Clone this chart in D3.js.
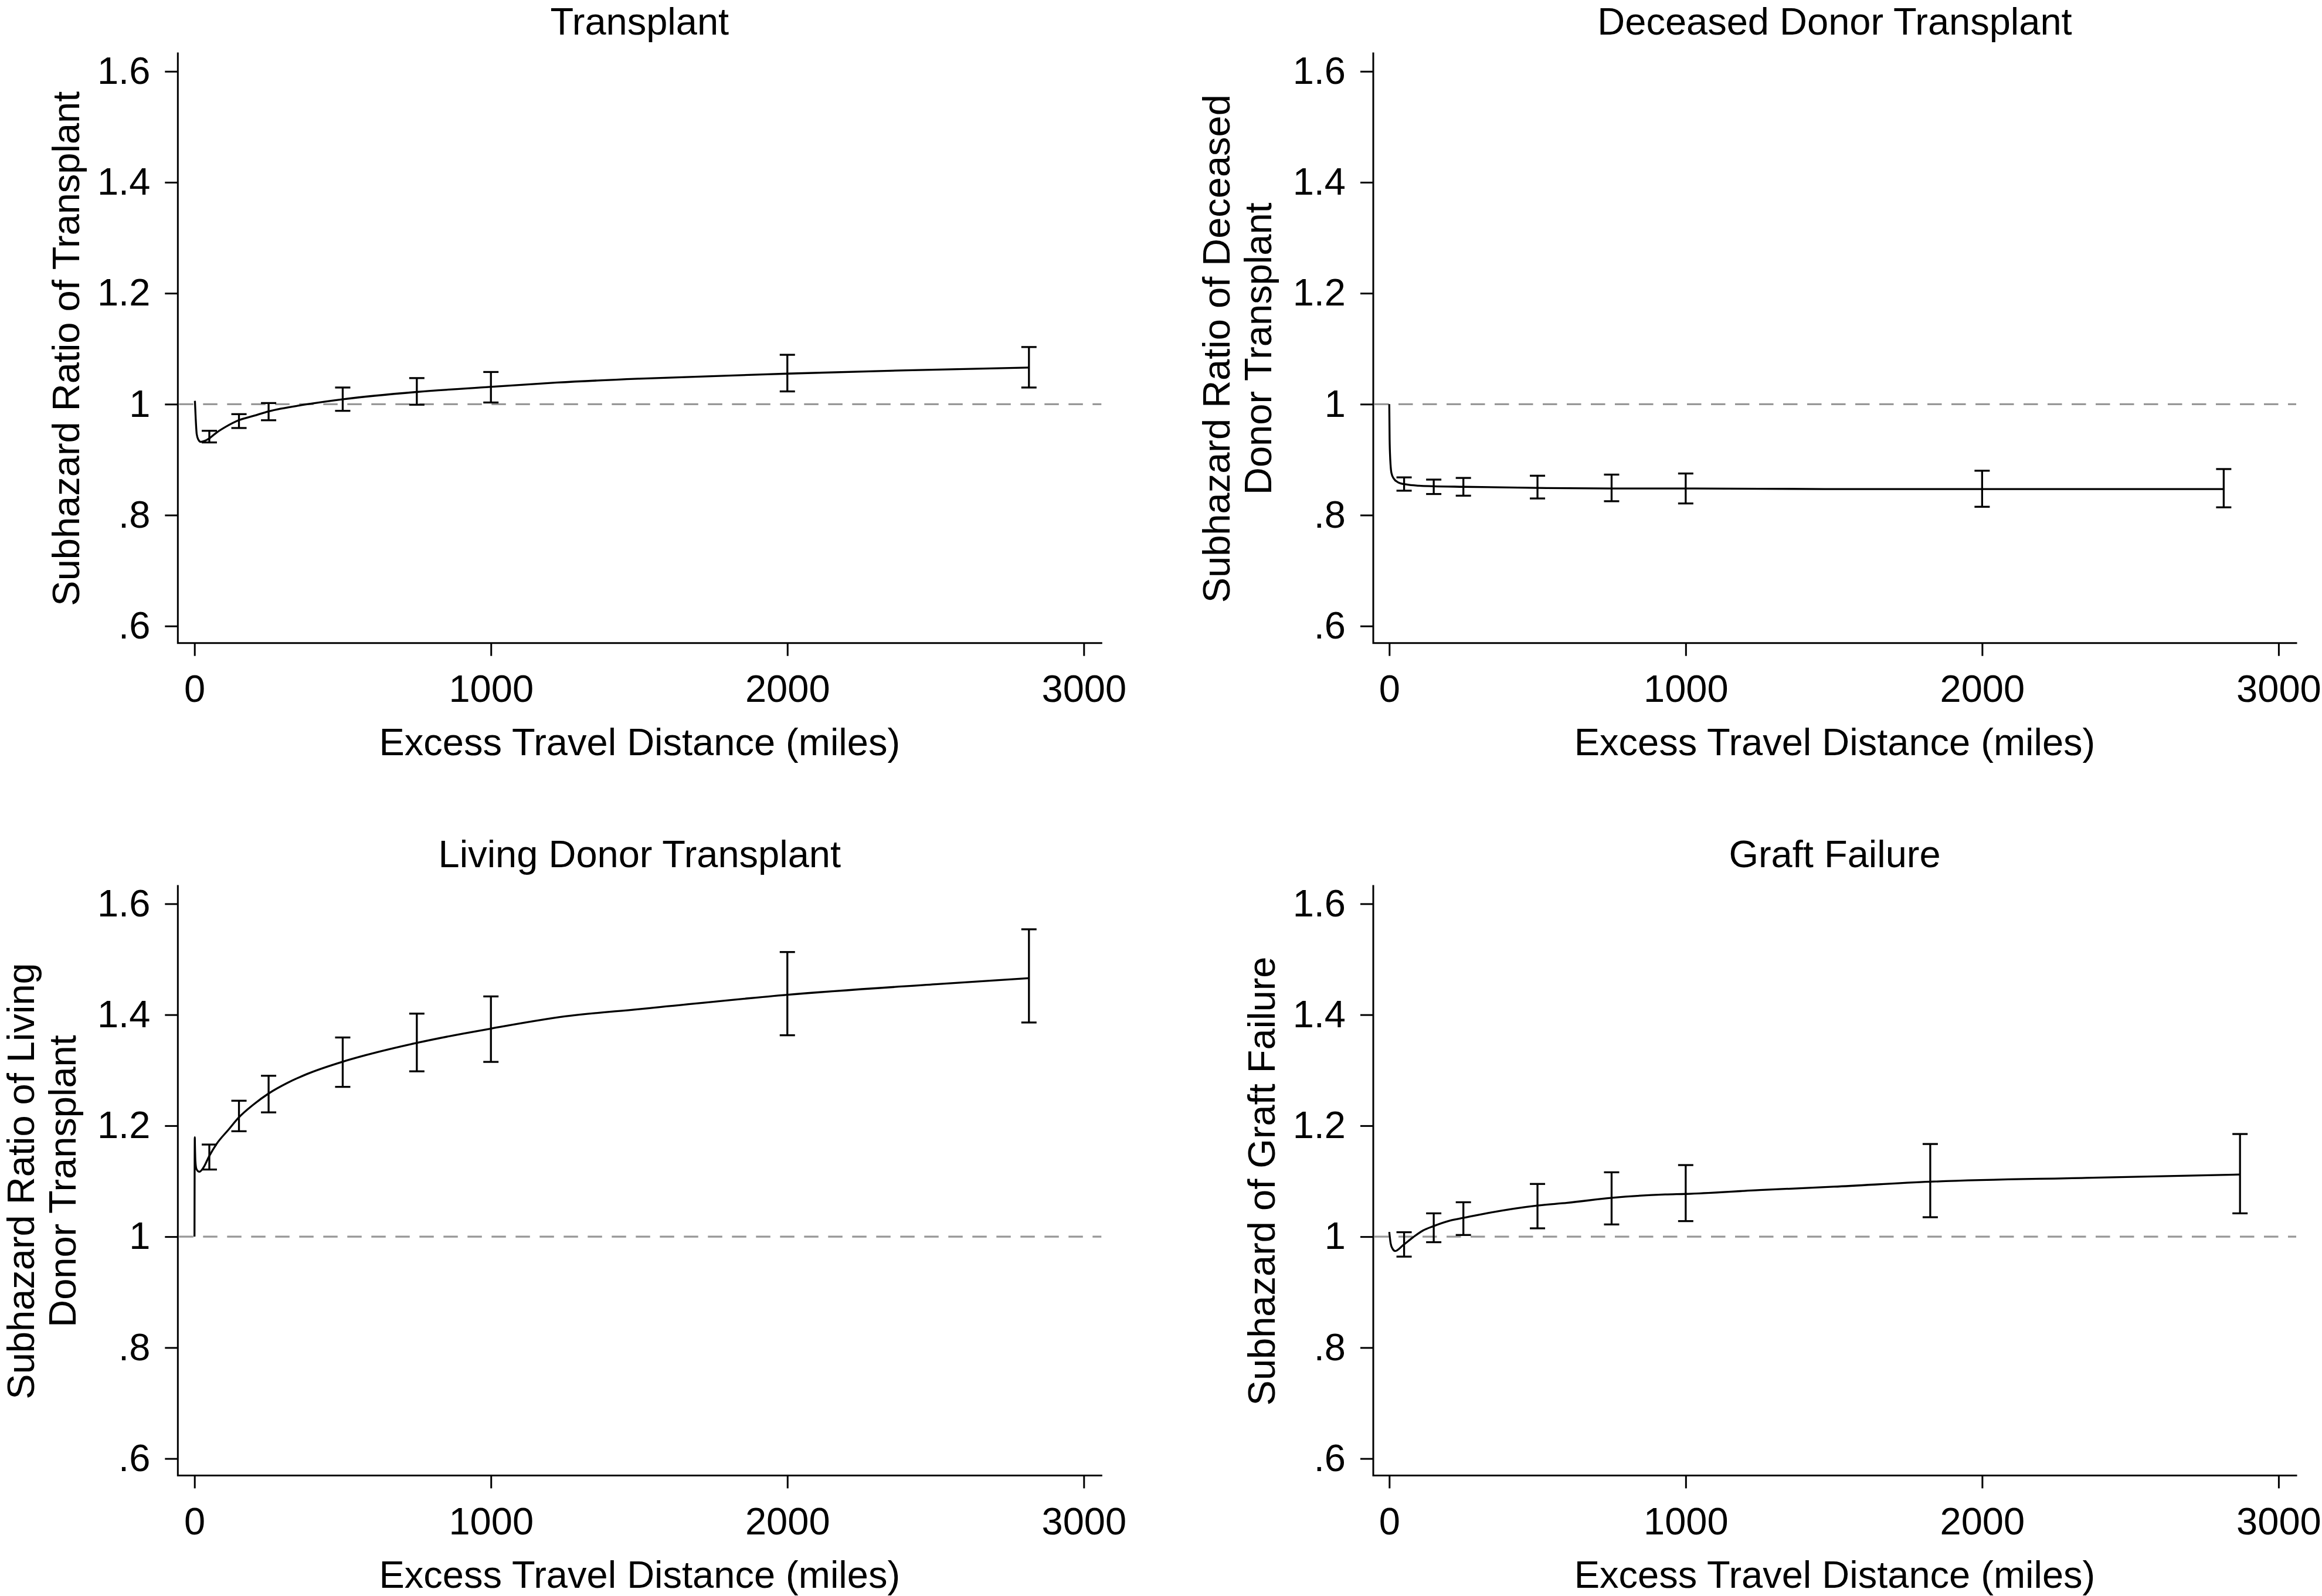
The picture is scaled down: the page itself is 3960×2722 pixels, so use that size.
<!DOCTYPE html>
<html><head><meta charset="utf-8">
<script src="https://cdn.jsdelivr.net/npm/d3@7"></script>
<style>
body{margin:0;background:#fff}
svg{display:block}
text{font-family:"Liberation Sans",Arial,Helvetica,sans-serif;fill:#000}
</style>
</head><body>
<svg id="c" width="3960" height="2722"></svg>
<script>
// ---------- data ----------
const xTickValues = [0, 1000, 2000, 3000];
const yTickValues = [0.6, 0.8, 1, 1.2, 1.4, 1.6];
const yTickLabels = [".6", ".8", "1", "1.2", "1.4", "1.6"];
const xTitle = "Excess Travel Distance (miles)";
const panelTitles = ["Transplant", "Deceased Donor Transplant", "Living Donor Transplant", "Graft Failure"];
const yTitles = [
  ["Subhazard Ratio of Transplant"],
  ["Subhazard Ratio of Deceased", "Donor Transplant"],
  ["Subhazard Ratio of Living", "Donor Transplant"],
  ["Subhazard of Graft Failure"]
];

// Transplant
const tx_barX = [50, 150, 250, 500, 750, 1000, 2000, 2815];
const tx_lo   = [0.931, 0.957, 0.971, 0.988, 0.999, 1.003, 1.023, 1.030];
const tx_hi   = [0.952, 0.982, 1.002, 1.030, 1.047, 1.058, 1.089, 1.103];
const tx_curveX = [1.4, 4, 7.5, 13, 20.8, 35, 51.7, 75, 104.6, 148.9, 200, 250, 370, 502, 749, 996, 1224, 1500, 2000, 2400, 2815];
const tx_curveY = [1.006, 0.975, 0.946, 0.936, 0.932, 0.934, 0.939, 0.949, 0.959, 0.971, 0.979, 0.987, 0.999, 1.009, 1.022, 1.031, 1.039, 1.046, 1.055, 1.061, 1.066];

// Deceased donor transplant
const dd_barX = [50, 150, 250, 500, 750, 1000, 2000, 2815];
const dd_lo   = [0.844, 0.838, 0.835, 0.830, 0.825, 0.821, 0.815, 0.814];
const dd_hi   = [0.868, 0.864, 0.867, 0.871, 0.873, 0.875, 0.880, 0.883];
const dd_curveX = [0, 1.2, 2.5, 4.3, 7.3, 15, 30, 60, 100, 150, 250, 500, 750, 1000, 1500, 2000, 2815];
const dd_curveY = [1.0, 0.936, 0.91, 0.891, 0.876, 0.866, 0.859, 0.855, 0.853, 0.852, 0.851, 0.849, 0.848, 0.848, 0.847, 0.847, 0.847];

// Living donor transplant
const ld_barX = [50, 150, 250, 500, 750, 1000, 2000, 2815];
const ld_lo   = [1.121, 1.190, 1.224, 1.270, 1.298, 1.315, 1.363, 1.386];
const ld_hi   = [1.166, 1.245, 1.290, 1.359, 1.402, 1.433, 1.513, 1.554];
const ld_curveX = [0, 1, 1.5, 3, 6.5, 16.4, 29.6, 49.4, 75.7, 115, 148, 201, 250, 313, 379, 498, 577, 748, 906, 1000, 1250, 1500, 2000, 2500, 2815];
const ld_curveY = [1.0, 1.179, 1.165, 1.136, 1.122, 1.117, 1.124, 1.145, 1.168, 1.193, 1.214, 1.239, 1.258, 1.277, 1.293, 1.315, 1.327, 1.349, 1.366, 1.375, 1.397, 1.410, 1.436, 1.455, 1.466];

// Graft failure
const gf_barX = [50, 150, 250, 500, 750, 1000, 1825, 2870];
const gf_lo   = [0.964, 0.990, 1.003, 1.015, 1.022, 1.028, 1.035, 1.042];
const gf_hi   = [1.008, 1.042, 1.062, 1.095, 1.116, 1.129, 1.167, 1.185];
const gf_curveX = [0, 4.6, 11.3, 19.8, 47.5, 80.5, 113.5, 149.7, 205.7, 251.9, 337.6, 499, 601, 750.8, 930.8, 1000, 1250, 1500, 1825, 2350, 2870];
const gf_curveY = [1.0085, 0.988, 0.978, 0.974, 0.985, 0.999, 1.011, 1.019, 1.029, 1.034, 1.043, 1.056, 1.061, 1.070, 1.076, 1.077, 1.084, 1.090, 1.099, 1.106, 1.112];

const series = [
  {barX: tx_barX, lo: tx_lo, hi: tx_hi, cx: tx_curveX, cy: tx_curveY},
  {barX: dd_barX, lo: dd_lo, hi: dd_hi, cx: dd_curveX, cy: dd_curveY},
  {barX: ld_barX, lo: ld_lo, hi: ld_hi, cx: ld_curveX, cy: ld_curveY},
  {barX: gf_barX, lo: gf_lo, hi: gf_hi, cx: gf_curveX, cy: gf_curveY}
];

// ---------- layout ----------
const FS = 65;
const colL = {left: 303.3, x0: 331.7, x3000: 1848.3, right: 1878.3};
const colR = {left: 2342, x0: 2369.3, x3000: 3885.9, right: 3916};
const rowT = {top: 91, y16: 121.7, y06: 1067.7, axisY: 1096.7, titleY: 59.3};
const rowB = {top: 1511, y16: 1541.4, y06: 2487.6, axisY: 2516.4, titleY: 1479};
const panels = [
  Object.assign({}, colL, rowT),
  Object.assign({}, colR, rowT),
  Object.assign({}, colL, rowB),
  Object.assign({}, colR, rowB)
];

const svg = d3.select("#c");
svg.append("rect").attr("width", 3960).attr("height", 2722).attr("fill", "#fff");

panels.forEach((p, i) => {
  const s = series[i];
  const g = svg.append("g");
  const x = d3.scaleLinear().domain([0, 3000]).range([p.x0, p.x3000]);
  const y = d3.scaleLinear().domain([0.6, 1.6]).range([p.y06, p.y16]);

  // reference line at 1
  g.append("line")
    .attr("x1", p.left + 2).attr("x2", p.right)
    .attr("y1", y(1)).attr("y2", y(1))
    .attr("stroke", "#989898").attr("stroke-width", 3.3)
    .attr("stroke-dasharray", "24.5,16.5");

  // y axis
  const ya = g.append("g").attr("transform", `translate(${p.left},0)`)
    .call(d3.axisLeft(y).tickValues(yTickValues)
      .tickFormat((d, j) => yTickLabels[j]).tickSize(22).tickPadding(25));
  ya.select(".domain").remove();
  ya.selectAll(".tick line").attr("stroke", "#000").attr("stroke-width", 3);
  ya.selectAll(".tick text").attr("font-size", FS).attr("fill", "#000")
    .style("font-family", '"Liberation Sans",Arial,Helvetica,sans-serif');

  // x axis
  const xa = g.append("g").attr("transform", `translate(0,${p.axisY})`)
    .call(d3.axisBottom(x).tickValues(xTickValues).tickFormat(d3.format("d")).tickSize(22));
  xa.select(".domain").remove();
  xa.selectAll(".tick line").attr("stroke", "#000").attr("stroke-width", 3);
  xa.selectAll(".tick text").attr("font-size", FS).attr("fill", "#000")
    .attr("y", 100.6).attr("dy", 0)
    .style("font-family", '"Liberation Sans",Arial,Helvetica,sans-serif');

  // axis lines
  g.append("path")
    .attr("d", `M${p.left},${p.top}V${p.axisY}H${p.right}`)
    .attr("fill", "none").attr("stroke", "#000").attr("stroke-width", 3)
    .attr("stroke-linejoin", "miter").attr("stroke-linecap", "square");

  // curve
  const pts = s.cx.map((v, j) => [v, s.cy[j]]);
  g.append("path")
    .datum(pts)
    .attr("d", d3.line().x(d => x(d[0])).y(d => y(d[1])).curve(d3.curveMonotoneX))
    .attr("fill", "none").attr("stroke", "#000").attr("stroke-width", 3.3)
    .attr("stroke-linejoin", "round");

  // error bars
  const bars = s.barX.map((v, j) => ({x: v, lo: s.lo[j], hi: s.hi[j]}));
  const cap = 13;
  const eb = g.append("g").attr("stroke", "#000").attr("stroke-width", 3.3);
  eb.selectAll("line.v").data(bars).join("line").attr("class", "v")
    .attr("x1", d => x(d.x)).attr("x2", d => x(d.x))
    .attr("y1", d => y(d.lo)).attr("y2", d => y(d.hi));
  eb.selectAll("line.t").data(bars).join("line").attr("class", "t")
    .attr("x1", d => x(d.x) - cap).attr("x2", d => x(d.x) + cap)
    .attr("y1", d => y(d.hi)).attr("y2", d => y(d.hi));
  eb.selectAll("line.b").data(bars).join("line").attr("class", "b")
    .attr("x1", d => x(d.x) - cap).attr("x2", d => x(d.x) + cap)
    .attr("y1", d => y(d.lo)).attr("y2", d => y(d.lo));

  const cx = (p.left + p.right) / 2;
  // panel title
  g.append("text").attr("x", cx).attr("y", p.titleY)
    .attr("text-anchor", "middle").attr("font-size", FS).text(panelTitles[i]);
  // x title
  g.append("text").attr("x", cx).attr("y", p.axisY + 191.3)
    .attr("text-anchor", "middle").attr("font-size", FS).text(xTitle);
  // y title
  const lines = yTitles[i];
  const offs = lines.length === 1 ? [-168.5] : [-245.5, -174.5];
  const cyMid = (p.y16 + p.y06) / 2;
  lines.forEach((t, k) => {
    g.append("text")
      .attr("transform", `translate(${p.left + offs[k]},${cyMid}) rotate(-90)`)
      .attr("text-anchor", "middle").attr("font-size", FS).text(t);
  });
});
</script>
</body></html>
